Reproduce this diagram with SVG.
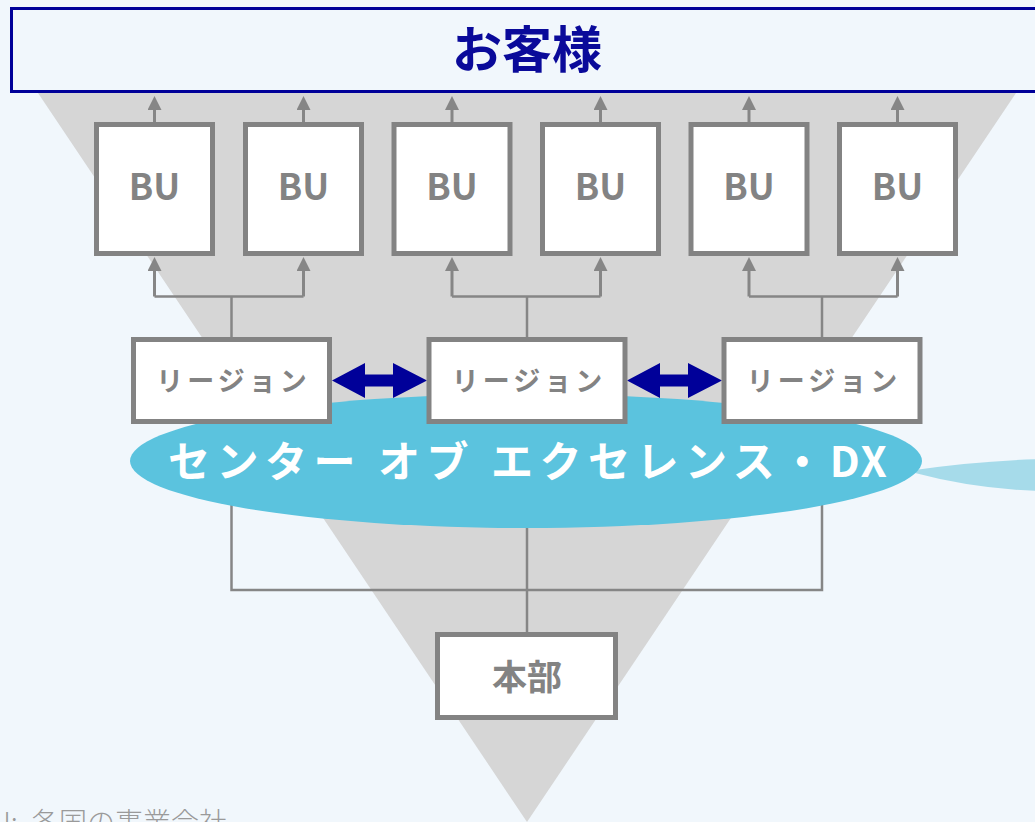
<svg xmlns="http://www.w3.org/2000/svg" width="1035" height="822" viewBox="0 0 1035 822">
<style>
.jp{font-family:"Noto Sans CJK JP","Noto Sans",sans-serif}
.box{fill:#ffffff;stroke:#838383;stroke-width:5}
.gt{fill:#838383;font-weight:700;text-anchor:middle}
.ln{fill:none;stroke:#868686;stroke-width:2.5}
.ar{fill:none;stroke:#868686;stroke-width:3;marker-end:url(#ah)}
.dbl{fill:#000099}
</style>
<defs>
<marker id="ah" viewBox="0 0 10 10" refX="0" refY="5" markerWidth="14" markerHeight="14" markerUnits="userSpaceOnUse" orient="auto">
<path d="M0,0 L10,5 L0,10 Z" fill="#868686"/>
</marker>
</defs>
<rect x="0" y="0" width="1035" height="822" fill="#f1f7fc"/>
<polygon points="38,93 1016,93 527,822" fill="#d6d6d6"/>
<g id="customer">
<rect x="11.5" y="8.5" width="1030" height="83" fill="#f1f7fc" stroke="#000099" stroke-width="3"/>
<text class="jp" x="527" y="68" font-size="50" font-weight="700" fill="#0a0a9a" text-anchor="middle">お客様</text>
</g>
<g id="connectors">
<path class="ar" d="M154.5,122 V110"/>
<path class="ar" d="M303.5,122 V110"/>
<path class="ar" d="M452,122 V110"/>
<path class="ar" d="M600.5,122 V110"/>
<path class="ar" d="M749,122 V110"/>
<path class="ar" d="M897.5,122 V110"/>
<path class="ln" d="M231.5,337 V296.5 M154.5,296.5 H303.5"/>
<path class="ar" d="M154.5,296.5 V271"/>
<path class="ar" d="M303.5,296.5 V271"/>
<path class="ln" d="M527,337 V296.5 M452,296.5 H600.5"/>
<path class="ar" d="M452,296.5 V271"/>
<path class="ar" d="M600.5,296.5 V271"/>
<path class="ln" d="M822,337 V296.5 M749,296.5 H897.5"/>
<path class="ar" d="M749,296.5 V271"/>
<path class="ar" d="M897.5,296.5 V271"/>
<path class="ln" d="M231.5,424 V590 H822 V424 M527,424 V632"/>
</g>
<g id="coe">
<path d="M915,470 Q975,461 1040,459 L1040,491 Q975,489 915,473 Z" fill="#a6dbea"/>
<ellipse cx="526" cy="461" rx="396" ry="67" fill="#5bc3de"/>
<text class="jp" x="168" y="477" font-size="42" font-weight="700" fill="#ffffff" letter-spacing="6.5">センター オブ エクセレンス・<tspan letter-spacing="2">DX</tspan></text>
</g>
<g id="links">
<polygon class="dbl" points="332,380.5 365,363 365,374.5 393,374.5 393,363 427,380.5 393,398 393,386.5 365,386.5 365,398"/>
<polygon class="dbl" points="627,380.5 660,363 660,374.5 688,374.5 688,363 722,380.5 688,398 688,386.5 660,386.5 660,398"/>
</g>
<g id="bu1"><rect class="box" x="96.5" y="124.5" width="116" height="129"/><text class="jp gt" x="154.5" y="200" font-size="36">BU</text></g>
<g id="bu2"><rect class="box" x="245.5" y="124.5" width="116" height="129"/><text class="jp gt" x="303.5" y="200" font-size="36">BU</text></g>
<g id="bu3"><rect class="box" x="394" y="124.5" width="116" height="129"/><text class="jp gt" x="452" y="200" font-size="36">BU</text></g>
<g id="bu4"><rect class="box" x="542.5" y="124.5" width="116" height="129"/><text class="jp gt" x="600.5" y="200" font-size="36">BU</text></g>
<g id="bu5"><rect class="box" x="691" y="124.5" width="116" height="129"/><text class="jp gt" x="749" y="200" font-size="36">BU</text></g>
<g id="bu6"><rect class="box" x="839.5" y="124.5" width="116" height="129"/><text class="jp gt" x="897.5" y="200" font-size="36">BU</text></g>
<g id="region1"><rect class="box" x="133.5" y="339.5" width="196" height="82"/><text class="jp gt" x="233.5" y="391" font-size="27" letter-spacing="4">リージョン</text></g>
<g id="region2"><rect class="box" x="429" y="339.5" width="196" height="82"/><text class="jp gt" x="529" y="391" font-size="27" letter-spacing="4">リージョン</text></g>
<g id="region3"><rect class="box" x="724" y="339.5" width="196" height="82"/><text class="jp gt" x="824" y="391" font-size="27" letter-spacing="4">リージョン</text></g>
<g id="honbu"><rect class="box" x="437.5" y="634.5" width="178" height="83"/><text class="jp gt" x="527" y="690" font-size="35">本部</text></g>
<text class="jp" x="-27" y="833" font-size="28" font-weight="300" fill="#9a9a9a">BU:<tspan x="31">各国の事業会社</tspan></text>
</svg>
